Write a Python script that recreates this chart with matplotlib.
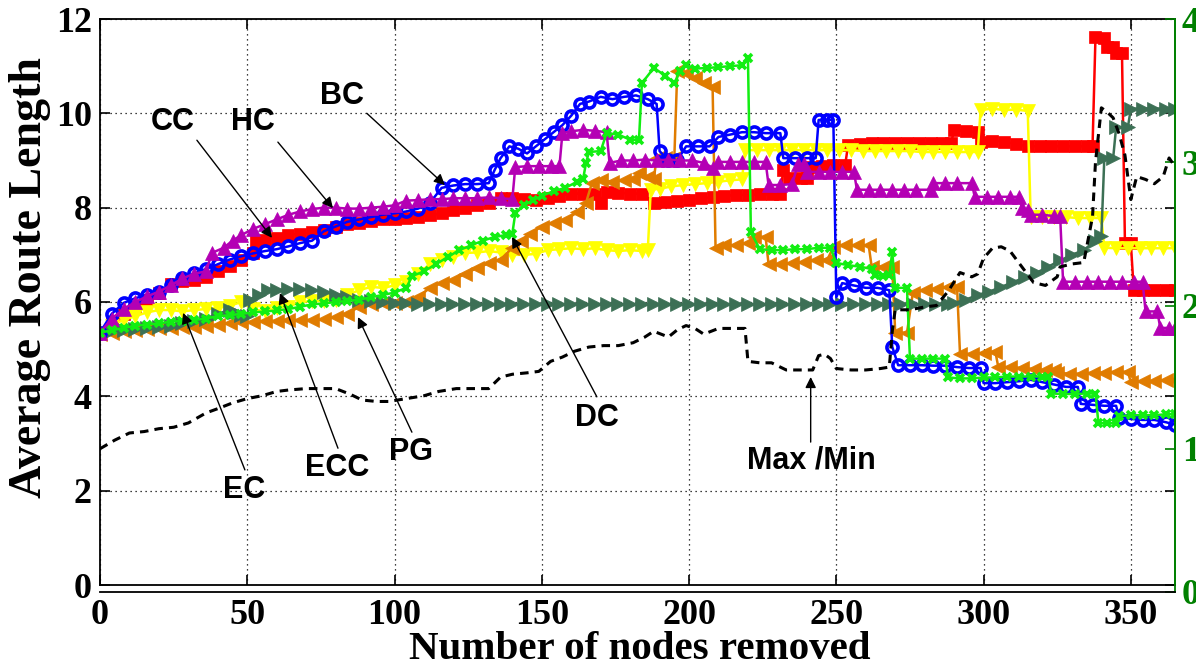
import matplotlib.pyplot as plt

# node-removal curves: (nodes removed, average route length)
bc_pts = [(0,5.35),(4,5.75),(8,5.98),(12,6.08),(16,6.15),(20,6.22),(24,6.35),(28,6.5),(32,6.61),(36,6.7),
          (40,6.8),(44,6.9),(48,6.97),(52,7.03),(56,7.08),(60,7.12),(64,7.18),(68,7.25),(72,7.3),(76,7.5),
          (80,7.6),(84,7.7),(88,7.75),(92,7.8),(96,7.85),(100,7.88),(104,7.92),(108,7.98),(112,8.1),(116,8.42),
          (120,8.47),(124,8.5),(128,8.5),(132,8.52),(134,8.8),(136,9.05),(139,9.3),(142,9.25),(145,9.15),(148,9.3),
          (151,9.45),(154,9.6),(157,9.75),(160,9.95),(163,10.2),(166,10.25),(170,10.35),(174,10.3),(178,10.35),(182,10.38),
          (186,10.3),(189,10.2),(190,9.2),(193,9.0),(196,9.0),(199,9.3),(203,9.3),(207,9.3),(210,9.5),(214,9.55),
          (218,9.6),(222,9.6),(226,9.58),(231,9.58),(232,9.05),(236,9.05),(240,9.05),(243,9.05),(244,9.86),(247,9.86),
          (249,9.86),(250,6.1),(252,6.4),(256,6.35),(260,6.3),(264,6.3),(268,6.25),(269,5.05),(271,4.66),(275,4.66),
          (279,4.66),(283,4.65),(287,4.65),(291,4.62),(295,4.6),(299,4.6),(300,4.28),(304,4.28),(308,4.3),(312,4.32),
          (316,4.35),(320,4.3),(324,4.25),(328,4.2),(332,4.2),(333,3.84),(337,3.82),(341,3.8),(345,3.8),(346,3.55),
          (350,3.52),(354,3.5),(358,3.5),(362,3.45),(365,3.4)]

cc_pts = [(0,5.35),(4,5.55),(8,5.75),(12,5.9),(16,6.05),(20,6.2),(24,6.38),(28,6.45),(32,6.47),(36,6.53),
          (40,6.65),(44,6.76),(48,6.9),(52,7.04),(53,7.3),(56,7.32),(60,7.36),(64,7.42),(68,7.45),(72,7.48),
          (76,7.53),(80,7.6),(84,7.65),(88,7.68),(92,7.72),(96,7.75),(100,7.77),(104,7.78),(108,7.8),(112,7.84),
          (116,7.88),(120,7.95),(124,8.0),(128,8.05),(132,8.1),(136,8.2),(140,8.2),(144,8.18),(148,8.16),(152,8.2),
          (156,8.25),(160,8.3),(164,8.3),(168,8.28),(170,8.1),(172,8.33),(176,8.32),(180,8.3),(184,8.3),(188,8.1),
          (192,8.12),(196,8.15),(200,8.16),(204,8.2),(208,8.22),(212,8.25),(216,8.27),(220,8.27),(224,8.28),(228,8.28),
          (231,8.3),(232,8.8),(234,8.63),(238,8.63),(240,8.63),(241,8.86),(245,8.88),(249,8.9),(253,8.9),(254,9.33),
          (258,9.35),(262,9.37),(266,9.37),(270,9.37),(274,9.37),(278,9.37),(282,9.37),(286,9.37),(289,9.37),(290,9.65),
          (294,9.62),(298,9.6),(299,9.4),(303,9.42),(307,9.4),(311,9.35),(315,9.3),(319,9.3),(323,9.3),(327,9.3),
          (331,9.3),(335,9.3),(337,9.3),(338,11.62),(341,11.6),(342,11.4),(344,11.4),(345,11.27),(347,11.27),(348,7.25),
          (350,7.25),(351,6.25),(354,6.25),(358,6.25),(362,6.25),(365,6.25)]

hc_pts = [(0,5.35),(4,5.65),(8,5.85),(12,6.0),(16,6.12),(20,6.22),(24,6.35),(28,6.5),(32,6.6),(36,6.65),
          (38,7.04),(42,7.15),(45,7.3),(48,7.42),(52,7.55),(56,7.65),(60,7.75),(64,7.85),(68,7.92),(72,7.97),
          (76,8.0),(80,8.0),(84,7.98),(88,7.98),(92,8.0),(96,8.02),(100,8.05),(104,8.15),(108,8.16),(112,8.18),
          (116,8.18),(120,8.2),(124,8.2),(128,8.2),(132,8.22),(136,8.2),(140,8.18),(141,8.86),(145,8.88),(149,8.88),
          (153,8.88),(156,8.88),(157,9.58),(160,9.62),(164,9.65),(168,9.63),(172,9.6),(173,8.95),(177,9.0),(181,9.0),
          (185,9.02),(189,9.0),(193,9.02),(197,9.0),(201,9.0),(205,8.95),(208,8.85),(210,8.97),(214,8.97),(218,8.97),
          (222,8.97),(226,8.97),(227,8.48),(231,8.48),(235,8.5),(237,8.92),(239,8.92),(240,8.76),(244,8.76),(248,8.76),
          (252,8.76),(256,8.76),(257,8.38),(261,8.38),(265,8.38),(269,8.38),(273,8.38),(277,8.38),(282,8.38),(283,8.52),
          (287,8.52),(291,8.52),(296,8.52),(297,8.23),(301,8.23),(305,8.23),(309,8.23),(312,8.23),(313,8.0),(315,7.95),
          (316,7.85),(320,7.85),(324,7.82),(326,7.82),(327,6.43),(331,6.43),(335,6.43),(339,6.43),(343,6.43),(347,6.43),
          (351,6.43),(354,6.43),(355,5.8),(359,5.8),(360,5.45),(363,5.45),(365,5.45)]

dc_pts = [(0,5.35),(4,5.4),(8,5.45),(12,5.5),(16,5.52),(20,5.55),(24,5.58),(28,5.6),(32,5.62),(36,5.65),
          (40,5.7),(44,5.72),(48,5.75),(52,5.78),(56,5.8),(60,5.82),(64,5.85),(68,5.9),(72,5.95),(76,5.97),
          (80,6.0),(84,6.02),(88,6.05),(92,6.1),(96,6.15),(100,6.2),(104,6.3),(106,6.55),(110,6.65),(114,6.8),
          (118,6.95),(122,7.1),(126,7.2),(130,7.3),(134,7.38),(138,7.42),(140,7.45),(141,7.88),(144,8.05),(147,8.16),
          (150,8.25),(154,8.35),(158,8.42),(162,8.55),(164,8.6),(165,8.94),(166,9.18),(170,9.2),(172,9.58),(176,9.55),
          (180,9.44),(183,9.44),(184,10.64),(188,10.96),(192,10.8),(195,10.64),(197,10.9),(199,11.02),(202,10.95),(206,10.96),
          (210,10.98),(214,11.0),(218,11.02),(220,11.17),(221,7.48),(224,7.12),(228,7.1),(232,7.1),(236,7.12),(240,7.12),
          (244,7.15),(248,7.15),(250,6.83),(254,6.78),(258,6.75),(262,6.7),(263,6.57),(266,6.55),(268,6.57),(269,7.06),
          (270,6.3),(274,6.3),(275,4.8),(279,4.8),(283,4.8),(287,4.8),(288,4.4),(292,4.38),(296,4.38),(300,4.4),
          (304,4.4),(308,4.42),(312,4.42),(316,4.42),(320,4.42),(322,4.42),(323,4.06),(327,4.05),(331,4.05),(335,4.06),
          (338,4.06),(339,3.43),(342,3.43),(345,3.43),(346,3.58),(350,3.6),(354,3.6),(358,3.6),(362,3.62),(365,3.62)]

ec_pts = [(0,5.35),(4,5.5),(8,5.62),(12,5.7),(16,5.78),(20,5.83),(24,5.83),(28,5.8),(32,5.83),(36,5.85),
          (40,5.88),(44,5.92),(48,6.0),(52,5.85),(56,5.8),(60,5.88),(64,5.9),(68,6.0),(72,6.02),(76,6.02),
          (80,6.05),(84,6.15),(88,6.25),(92,6.32),(96,6.3),(100,6.35),(104,6.42),(108,6.6),(112,6.8),(116,6.88),
          (120,6.95),(124,7.04),(128,7.05),(132,7.08),(136,7.05),(140,7.0),(144,7.0),(148,7.02),(152,7.1),(156,7.12),
          (160,7.14),(164,7.12),(168,7.14),(172,7.1),(176,7.08),(180,7.1),(184,7.08),(186,7.1),(187,8.38),(190,8.4),
          (194,8.45),(198,8.48),(202,8.5),(206,8.52),(210,8.55),(214,8.58),(218,8.6),(219,9.22),(223,9.22),(227,9.22),
          (231,9.22),(235,9.22),(239,9.22),(243,9.22),(247,9.22),(251,9.22),(255,9.22),(259,9.2),(263,9.2),(267,9.2),
          (271,9.2),(275,9.2),(279,9.18),(283,9.18),(287,9.18),(291,9.18),(295,9.18),(298,9.18),(299,10.07),(303,10.1),
          (307,10.07),(311,10.08),(315,10.05),(316,7.8),(320,7.8),(324,7.8),(328,7.8),(332,7.78),(336,7.78),(340,7.78),
          (341,7.15),(345,7.14),(349,7.14),(353,7.14),(357,7.14),(361,7.14),(365,7.14)]

pg_pts = [(0,5.33),(4,5.35),(8,5.38),(12,5.4),(16,5.42),(20,5.44),(24,5.45),(28,5.46),(32,5.48),(36,5.5),
          (40,5.52),(44,5.55),(48,5.57),(52,5.58),(56,5.6),(60,5.6),(64,5.61),(68,5.62),(72,5.62),(76,5.63),
          (80,5.68),(84,5.75),(88,5.9),(92,5.96),(96,5.97),(100,5.98),(104,6.0),(108,6.1),(112,6.3),(116,6.4),
          (120,6.47),(124,6.6),(128,6.72),(132,6.82),(136,6.9),(140,7.15),(143,7.3),(146,7.45),(150,7.6),(154,7.68),
          (158,7.74),(162,7.9),(165,8.1),(167,8.52),(170,8.58),(174,8.55),(178,8.58),(181,8.6),(183,8.73),(186,8.65),
          (188,8.6),(189,9.05),(192,9.05),(195,9.05),(196,10.9),(199,10.85),(202,10.75),(205,10.65),(208,10.55),(209,7.15),
          (212,7.2),(216,7.2),(220,7.25),(222,7.38),(226,7.38),(227,6.8),(231,6.8),(235,6.82),(239,6.85),(243,6.88),
          (247,6.9),(249,7.17),(253,7.2),(257,7.2),(261,7.2),(262,6.75),(266,6.75),(269,6.75),(270,5.35),(274,5.35),
          (276,6.2),(280,6.25),(284,6.28),(288,6.32),(291,6.32),(292,4.9),(296,4.9),(300,4.92),(304,4.95),(305,4.62),
          (309,4.62),(313,4.6),(317,4.58),(321,4.55),(324,4.55),(325,4.5),(329,4.48),(333,4.48),(337,4.5),(341,4.5),
          (345,4.52),(349,4.52),(350,4.3),(354,4.32),(358,4.32),(362,4.35),(365,4.35)]

ecc_pts = [(0,5.35),(4,5.38),(8,5.4),(12,5.43),(16,5.45),(20,5.47),(24,5.5),(28,5.55),(32,5.6),(36,5.65),
           (40,5.75),(44,5.83),(46,5.78),(48,5.72),(50,5.7),(51,6.05),(54,6.15),(57,6.25),(60,6.25),(64,6.27),
           (68,6.27),(72,6.25),(76,6.22),(80,6.15),(84,6.1),(88,6.05),(92,6.02),(96,6.0),(100,5.98),(104,5.97),
           (108,5.96),(112,5.95),(116,5.95),(120,5.95),(124,5.95),(128,5.95),(132,5.95),(136,5.95),(140,5.95),(144,5.95),
           (148,5.95),(152,5.95),(156,5.95),(160,5.95),(164,5.95),(168,5.95),(172,5.95),(176,5.95),(180,5.95),(184,5.95),
           (188,5.95),(192,5.95),(196,5.95),(200,5.95),(204,5.95),(208,5.95),(212,5.95),(216,5.95),(220,5.95),(224,5.95),
           (228,5.95),(232,5.95),(236,5.95),(240,5.95),(244,5.95),(248,5.95),(252,5.95),(256,5.95),(260,5.95),(264,5.95),
           (268,5.95),(272,5.95),(276,5.95),(280,5.95),(284,5.95),(288,5.95),(290,5.98),(294,6.05),(298,6.15),(302,6.22),
           (306,6.32),(310,6.42),(314,6.52),(318,6.62),(322,6.75),(326,6.88),(330,7.0),(334,7.1),(338,7.3),(340,7.4),
           (341,9.05),(344,9.05),(345,9.7),(349,9.7),(350,10.1),(354,10.1),(358,10.1),(362,10.1),(365,10.1)]

# ratio of the longest to the shortest route (right axis)
mm_pts = [(0,1.0),(5,1.06),(10,1.11),(15,1.12),(20,1.14),(25,1.15),(30,1.18),(36,1.25),(40,1.28),(45,1.32),
          (50,1.35),(55,1.37),(60,1.4),(64,1.41),(70,1.42),(75,1.42),(80,1.42),(85,1.38),(89,1.34),(94,1.33),
          (98,1.33),(104,1.35),(110,1.37),(115,1.4),(121,1.42),(126,1.42),(132,1.42),(136,1.5),(140,1.52),(145,1.53),
          (149,1.54),(153,1.61),(157,1.64),(161,1.68),(166,1.71),(171,1.72),(176,1.72),(181,1.74),(185,1.78),(188,1.82),
          (193,1.78),(196,1.83),(199,1.86),(202,1.84),(205,1.8),(210,1.84),(215,1.84),(219,1.84),(220,1.61),(224,1.6),
          (228,1.6),(233,1.55),(238,1.55),(242,1.55),(244,1.65),(246,1.66),(248,1.63),(250,1.56),(255,1.55),(260,1.55),
          (265,1.56),(268,1.57),(269,1.82),(270,1.97),(275,1.97),(280,1.99),(284,2.0),(288,2.1),(292,2.23),(296,2.2),
          (298,2.22),(300,2.33),(303,2.4),(306,2.41),(309,2.38),(313,2.27),(317,2.16),(321,2.14),(325,2.2),(326,2.27),
          (330,2.29),(334,2.3),(337,2.62),(338,3.0),(340,3.38),(342,3.35),(344,3.31),(346,3.2),(348,3.05),(350,2.74),
          (352,2.9),(355,2.88),(358,2.85),(361,2.9),(363,3.03),(365,2.97)]

# label text, text position, arrow tail, arrow head
notes = [("BC", (82, 10.37), (90.6, 10.0), (117.1, 8.48)),
         ("CC", (24.8, 9.82), (32.9, 9.43), (58.4, 7.36)),
         ("HC", (51.9, 9.82), (60.4, 9.39), (79.1, 7.99)),
         ("EC", (48.9, 2.01), (49.2, 2.44), (28.2, 5.77)),
         ("ECC", (80.4, 2.48), (80.8, 2.9), (61.1, 6.19)),
         ("PG", (105.6, 2.82), (105.9, 3.24), (87.6, 5.68)),
         ("DC", (168.7, 3.54), (168.7, 3.99), (139.9, 7.38)),
         ("Max /Min", (241.7, 2.65), (241.3, 3.03), (241.3, 4.41))]

plt.rcParams['font.family'] = 'Liberation Serif'
plt.rcParams['font.weight'] = 'bold'

W, H = 1196, 664
fig = plt.figure(figsize=(W / 100, H / 100), dpi=100)
ax = fig.add_axes([100 / W, 79 / H, 1075 / W, 566 / H])
ax2 = fig.add_axes([100 / W, 72 / H, 1075 / W, 573 / H])

# color, marker, size, filled
styles = [(cc_pts, '#ff0000', 's', 9, True),
          (ec_pts, '#ffff00', 'v', 10.5, True),
          (pg_pts, '#e07c00', '<', 10.5, True),
          (ecc_pts, '#3c7055', '>', 10.5, True),
          (bc_pts, '#0000ff', 'o', 8, False),
          (hc_pts, '#b400b4', '^', 10.5, True),
          (dc_pts, '#12ee12', 'x', 5.5, False)]

for pts, col, mk, ms, filled in styles:
    xs, ys = zip(*pts)
    ax.plot(xs, ys, color=col, lw=1.8, marker=mk, ms=ms,
            mfc=col if filled else 'none', mec=col, mew=2.6 if not filled else 0.5)

ax.set_xlim(0, 365)
ax.set_ylim(0, 12)
ax.set_xticks(range(0, 351, 50))
ax.set_yticks(range(0, 13, 2))
ax.set_axisbelow(True)
ax.grid(True, ls=(0, (1, 3)), color='black', lw=0.9)
ax.tick_params(direction='in', length=7, width=1.2, top=True, right=True, labelsize=26)
ax.tick_params(axis='x', pad=10)
ax.tick_params(axis='y', pad=6)
for s in ax.spines.values():
    s.set_linewidth(1.3)
ax.spines['right'].set_color('#008000')

for label, txt, tail, head in notes:
    ax.annotate('', xy=head, xytext=tail,
                arrowprops=dict(arrowstyle='-|>', color='black', lw=1.0,
                                mutation_scale=16, shrinkA=0, shrinkB=0))
    ax.text(txt[0], txt[1], label, family='Liberation Sans', weight='bold',
            size=22, ha='center', va='center')

# second axis for max/min ratio
mx, my = zip(*mm_pts)
ax2.plot(mx, my, color='black', lw=2.2, ls=(0, (2.8, 2)))
ax2.set_xlim(0, 365)
ax2.set_ylim(0, 4)
ax2.patch.set_visible(False)
ax2.set_xticks([])
ax2.yaxis.tick_right()
ax2.set_yticks(range(0, 5))
ax2.tick_params(axis='y', direction='in', length=7, width=1.2,
                colors='#008000', labelsize=26, pad=5)
ax2.spines['top'].set_visible(False)
ax2.spines['left'].set_visible(False)
ax2.spines['right'].set_color('#008000')
ax2.spines['right'].set_linewidth(1.3)
ax2.spines['bottom'].set_linewidth(1.3)

fig.text(640 / W, 1 - 659 / H, 'Number of nodes removed', ha='center',
         va='baseline', size=29.5)
fig.text(30 / W, 1 - 278 / H, 'Average Route Length', rotation=90,
         ha='center', va='center', size=33)

fig.savefig('out.png', dpi=100)
